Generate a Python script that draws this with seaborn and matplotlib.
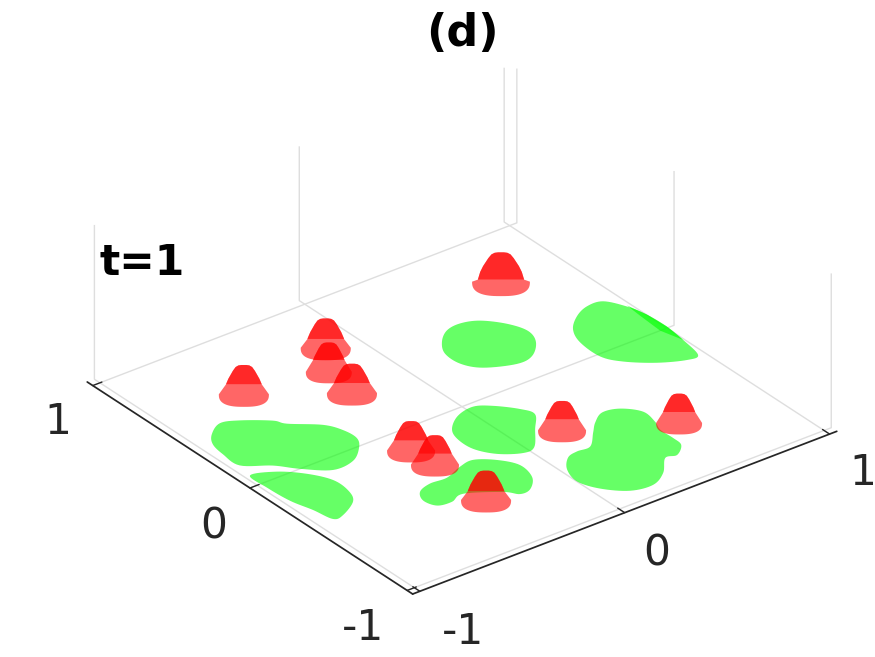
import numpy as np
import matplotlib
matplotlib.use("Agg")
import matplotlib.pyplot as plt
import seaborn as sns
from mpl_toolkits.mplot3d import proj3d
from mpl_toolkits.mplot3d.art3d import Poly3DCollection

# Region outlines on the floor of the domain (x, y)
region_a = [(.246,.448),(.313,.504),(.386,.516),(.461,.486),(.529,.403),(.560,.310),(.532,.223),(.454,.146),(.370,.133),(.248,.190),(.197,.269),(.198,.367)]
region_b = [(.706,.214),(.780,.285),(.857,.322),(.930,.315),(.979,.226),(1.002,.129),(1.007,.008),(.994,-.111),(.969,-.239),(.912,-.244),(.806,-.190),(.708,-.103),(.661,-.017),(.666,.117)]
region_c = [(-.899,.420),(-.822,.469),(-.747,.439),(-.647,.360),(-.618,.308),(-.513,.216),(-.476,.137),(-.471,.055),(-.512,-.012),(-.592,-.077),(-.695,-.085),(-.791,.000),(-.859,.084),(-.960,.163),(-.959,.271),(-.943,.356)]
region_d = [(-.976,.077),(-.875,.037),(-.793,-.047),(-.742,-.146),(-.744,-.244),(-.780,-.324),(-.877,-.386),(-.926,-.386),(-.945,-.283),(-.972,-.173),(-.981,-.038)]
region_e = [(-.134,-.111),(-.055,-.046),(.034,-.026),(.099,-.068),(.167,-.151),(.189,-.218),(.119,-.310),(.031,-.419),(-.031,-.429),(-.115,-.373),(-.165,-.285),(-.166,-.185)]
region_f = [(.335,-.411),(.403,-.366),(.477,-.385),(.533,-.458),(.522,-.548),(.500,-.610),(.501,-.690),(.493,-.752),(.433,-.804),(.383,-.794),(.306,-.881),(.219,-.931),(.120,-.913),(.038,-.829),(.001,-.731),(.027,-.633),(.087,-.562),(.143,-.546),(.206,-.547),(.281,-.468)]
region_g = [(-.529,-.423),(-.461,-.397),(-.381,-.401),(-.289,-.364),(-.217,-.353),(-.144,-.410),(-.097,-.496),(-.117,-.599),(-.180,-.668),(-.234,-.674),(-.276,-.621),(-.407,-.538),(-.479,-.561),(-.543,-.549),(-.562,-.485)]
regions = [region_a, region_b, region_c, region_d, region_e, region_f, region_g]

# Narrow fold along the far edge of region b, where two sheets overlap
region_b_fold = [(.984,.233),(1.002,.129),(1.007,.008),(.994,-.111),(.967,.000),(.976,.140)]

# Bumps: centre, base radius and the height where the darker cap begins
bump_x = [.709, -.141, -.245, -.274, -.612, -.363, -.356, -.366, .196, .590]
bump_y = [.676, .683, .528, .343, .590, -.149, -.292, -.630, -.381, -.612]
bump_r = [.112, .097, .089, .097, .097, .093, .093, .097, .093, .089]
bump_cap = [.013, .057, .076, .064, .064, .064, .070, .057, .070, .070]
bump_height = 0.19

# Radial profile of a bump: fraction of height, fraction of radius
profile_h = [0.0, .07, .33, .53, .80, .93, .985, 1.0]
profile_r = [.82, .80, .72, .62, .44, .33, .22, .10]

tick_values = [-1, 0, 1]
tick_labels = ["-1", "0", "1"]

# Anchor of each tick label on the floor plane
xlabel_x = [-1.061, -.095, .921]
xlabel_y = [-1.387, -1.360, -1.352]
ylabel_x = [-1.349, -1.329, -1.317]
ylabel_y = [-1.129, -.154, .856]

GREEN = (0, 1, 0, 0.6)
RED = (1, 0, 0, 0.6)
AZIM = -127.5
EDGE = 1.035


def rounded(points, samples=8):
    """Closed Catmull-Rom curve through the outline's points."""
    p = np.asarray(points, float)
    t = np.linspace(0, 1, samples, endpoint=False)[:, None]
    out = []
    for i in range(len(p)):
        p0, p1, p2, p3 = p[i - 1], p[i], p[(i + 1) % len(p)], p[(i + 2) % len(p)]
        out.append(0.5 * (2 * p1 + (p2 - p0) * t + (2 * p0 - 5 * p1 + 4 * p2 - p3) * t ** 2
                          + (3 * p1 - p0 - 3 * p2 + p3) * t ** 3))
    return np.vstack(out)


def floor_patch(xy, color, zorder):
    verts = [[(px, py, 0) for px, py in xy]]
    return Poly3DCollection(verts, facecolors=[color], edgecolors="none", linewidths=0, zorder=zorder)


sns.set_theme(style="white")
plt.rcParams["font.family"] = ["DejaVu Sans"]

fig = plt.figure(figsize=(8.75, 6.57), dpi=100)
side = 600
left_px = 462 - 0.5135 * side
bottom_px = 327.5 - 0.5135 * side
ax = fig.add_axes([left_px / 875, bottom_px / 657, side / 875, side / 657], projection="3d")
ax.patch.set_alpha(0)
ax.set_proj_type("ortho")
ax.view_init(elev=30, azim=AZIM)
ax.computed_zorder = False
ax.set_box_aspect((2.07, 2.07, 0.69), zoom=754 / side)
ax.set_xlim(-EDGE, EDGE, view_margin=0)
ax.set_ylim(-EDGE, EDGE, view_margin=0)
ax.set_zlim(0, 1, view_margin=0)

for outline in regions:
    ax.add_collection3d(floor_patch(rounded(outline), GREEN, 1))
ax.add_collection3d(floor_patch(region_b_fold, GREEN, 1))

# Floor directions: left-to-right across the view, and toward the viewer
toward_viewer = np.array([np.cos(np.radians(AZIM)), np.sin(np.radians(AZIM))])
across = np.array([-toward_viewer[1], toward_viewer[0]])
for i, (bx, by, br, cap) in enumerate(zip(bump_x, bump_y, bump_r, bump_cap)):
    c = np.array([bx, by])
    cap_frac = cap / bump_height
    cap_w = np.interp(cap_frac, profile_h, profile_r)
    hs = [h for h in profile_h if h > cap_frac]
    ws = [w for h, w in zip(profile_h, profile_r) if h > cap_frac]
    left = [(*(c - across * br * w), h * bump_height) for h, w in zip(hs, ws)]
    right = [(*(c + across * br * w), h * bump_height) for h, w in zip(hs, ws)][::-1]
    cap_poly = [(*(c - across * br * cap_w), cap)] + left + right + [(*(c + across * br * cap_w), cap)]

    # Front half of the footprint, closed by the band that rises to the cap
    angles = np.linspace(0, np.pi, 41)
    rim = [(*(c + br * (np.sign(np.cos(t)) * abs(np.cos(t)) ** 0.75 * across
                        + np.sin(t) ** 0.75 * toward_viewer)), 0) for t in angles]
    skirt = rim + [(*(c - across * br * cap_w), cap), (*(c + across * br * cap_w), cap)]

    ax.add_collection3d(Poly3DCollection([skirt], facecolors=[RED], edgecolors="none", linewidths=0, zorder=2 + i))
    ax.add_collection3d(Poly3DCollection([cap_poly, cap_poly], facecolors=[RED, RED], edgecolors="none", linewidths=0, zorder=2 + i))

ax.set_xticks(tick_values)
ax.set_yticks(tick_values)
ax.set_zticks([])
ax.grid(True)

for axis in (ax.xaxis, ax.yaxis, ax.zaxis):
    axis.set_pane_color((1, 1, 1, 0))
    axis.pane.set_edgecolor((1, 1, 1, 0))
    axis._axinfo["grid"].update(color="0.87", linewidth=1.0)
    axis._axinfo["tick"].update(inward_factor=0.0, outward_factor=0.27, color="0.15",
                                linewidth={True: 1.0, False: 0.5})
ax.tick_params(axis="both", colors="0.15")
ax.xaxis.line.set_color("0.15")
ax.yaxis.line.set_color("0.15")
ax.zaxis.line.set_color((1, 1, 1, 0))

# The axis's own labels are replaced by ones anchored on the floor plane
for axis in (ax.xaxis, ax.yaxis):
    for tick in axis.get_major_ticks():
        tick.label1.set_visible(False)
        tick.label2.set_visible(False)
view = ax.get_proj()
anchors = list(zip(tick_labels, xlabel_x, xlabel_y)) + list(zip(tick_labels, ylabel_x, ylabel_y))
for label, lx, ly in anchors:
    sx, sy, _ = proj3d.proj_transform(lx, ly, 0, view)
    ax.text2D(sx, sy, label, transform=ax.transData, fontsize=30.5, color="0.15",
              ha="center", va="center", clip_on=False)

fig.text(462 / 875, 1 - 33 / 657, "(d)", fontsize=32, fontweight="bold", color="black", ha="center", va="center")
fig.text(100 / 875, 1 - 263 / 657, "t=1", fontsize=30.5, fontweight="bold", color="black", ha="left", va="center")

fig.savefig("out.png", dpi=100)
